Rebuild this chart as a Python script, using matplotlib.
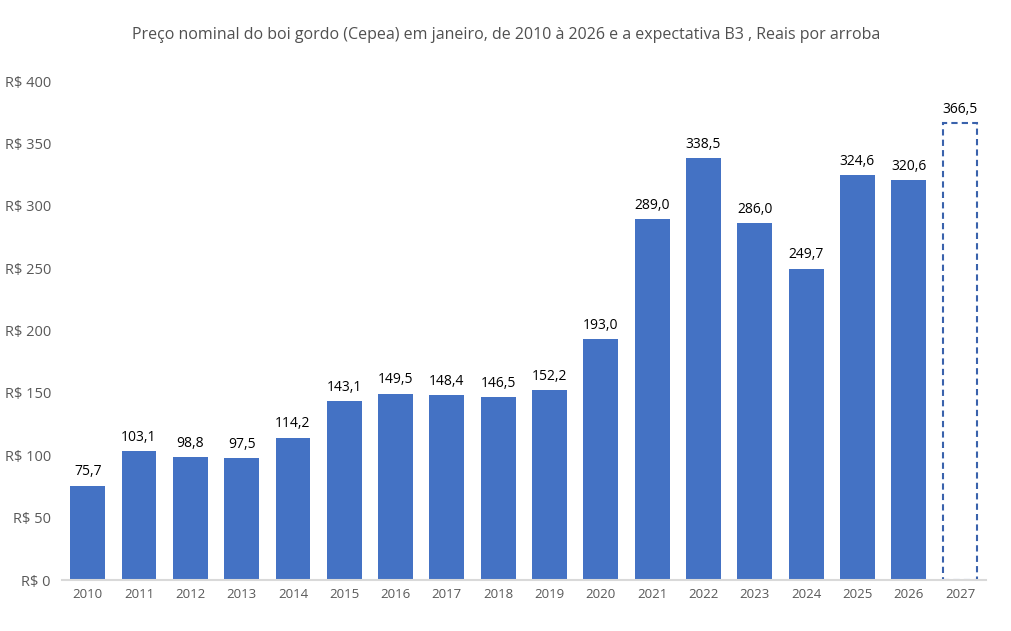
import numpy as np
import matplotlib
matplotlib.use('Agg')
from matplotlib import pyplot as plt

# dados
anos = ['2010', '2011', '2012', '2013', '2014', '2015', '2016', '2017', '2018',
        '2019', '2020', '2021', '2022', '2023', '2024', '2025', '2026', '2027']
precos = [75.7, 103.1, 98.8, 97.5, 114.2, 143.1, 149.5, 148.4, 146.5,
          152.2, 193.0, 289.0, 338.5, 286.0, 249.7, 324.6, 320.6, 366.5]
yticks = [0, 50, 100, 150, 200, 250, 300, 350, 400]
titulo = 'Preço nominal do boi gordo (Cepea) em janeiro, de 2010 à 2026 e a expectativa B3 , Reais por arroba'

azul = '#4472C4'
cinza = '#595959'

plt.rcParams['font.family'] = ['Open Sans', 'DejaVu Sans']

fig = plt.figure(figsize=(10.12, 6.31), dpi=100)
ax = fig.add_axes([0.0613, 0.0808, 0.9127, 0.7908])

x = np.arange(len(anos))
n_hist = len(anos) - 1
ax.bar(x[:n_hist], precos[:n_hist], width=0.68, color=azul)
# expectativa B3 (barra tracejada)
ax.bar(x[n_hist], precos[n_hist], width=0.68, facecolor='white',
       edgecolor='#3A62AC', linestyle=(0, (3, 2)), linewidth=1.5)

for xi, v in zip(x, precos):
    ax.text(xi, v + 5, f'{v:.1f}'.replace('.', ','), ha='center', va='bottom',
            fontsize=10, color='black')

ax.set_xlim(-0.5, len(anos) - 0.5)
ax.set_ylim(0, 400)
ax.set_xticks(x)
ax.set_xticklabels(anos, fontsize=9.5, color=cinza)
ax.set_yticks(yticks)
ax.set_yticklabels([f'R$ {t}' for t in yticks], fontsize=10.5, color=cinza)
ax.tick_params(length=0, pad=8)
ax.tick_params(axis='x', pad=6)
for s in ['top', 'right', 'left']:
    ax.spines[s].set_visible(False)
ax.spines['bottom'].set_color('#D9D9D9')
ax.spines['bottom'].set_linewidth(1.5)
ax.spines['bottom'].set_zorder(5)

fig.text(0.5, 0.945, titulo, ha='center', va='center', fontsize=11.5, color='#505050')

fig.savefig('out.png', dpi=100)
